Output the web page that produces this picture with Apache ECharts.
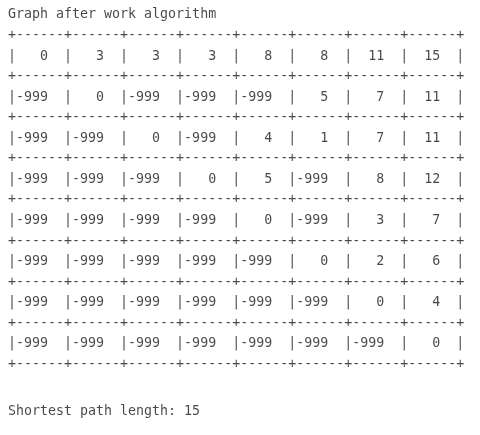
<!DOCTYPE html>
<html><head><meta charset="utf-8">
<script src="https://cdn.jsdelivr.net/npm/echarts@6/dist/echarts.min.js"></script>
<style>html,body{margin:0;background:#fff}#c{width:480px;height:435px}</style>
</head><body><div id="c"></div>
<script>
const title = "Graph after work algorithm";
const matrix = [
  [0,3,3,3,8,8,11,15],
  [-999,0,-999,-999,-999,5,7,11],
  [-999,-999,0,-999,4,1,7,11],
  [-999,-999,-999,0,5,-999,8,12],
  [-999,-999,-999,-999,0,-999,3,7],
  [-999,-999,-999,-999,-999,0,2,6],
  [-999,-999,-999,-999,-999,-999,0,4],
  [-999,-999,-999,-999,-999,-999,-999,0]
];
const shortestLabel = "Shortest path length: ";
const shortest = 15;

const border = "+------".repeat(8) + "+";
const lines = [[0, title]];
let idx = 1;
lines.push([idx++, border]);
matrix.forEach(r => {
  lines.push([idx++, "|" + r.map(v => String(v).padStart(4, " ") + "  ").join("|") + "|"]);
  lines.push([idx++, border]);
});
lines.push([19.3, shortestLabel + shortest]);

const chart = echarts.init(document.getElementById('c'));
chart.setOption({
  backgroundColor: '#fff',
  animation: false,
  grid: {left: 0, right: 0, top: 0, bottom: 0},
  xAxis: {type: 'value', min: 0, max: 480, show: false},
  yAxis: {type: 'value', inverse: true, min: -0.73, max: 20.43, show: false},
  series: [{
    type: 'scatter', symbolSize: 0,
    data: lines.map(l => ({value: [8, l[0]], text: l[1]})),
    label: {
      show: true, position: 'right', distance: 0,
      formatter: p => p.data.text,
      fontFamily: 'DejaVu Sans Mono', fontSize: 13.3, color: '#1a1a1a'
    }
  }]
});
</script></body></html>
